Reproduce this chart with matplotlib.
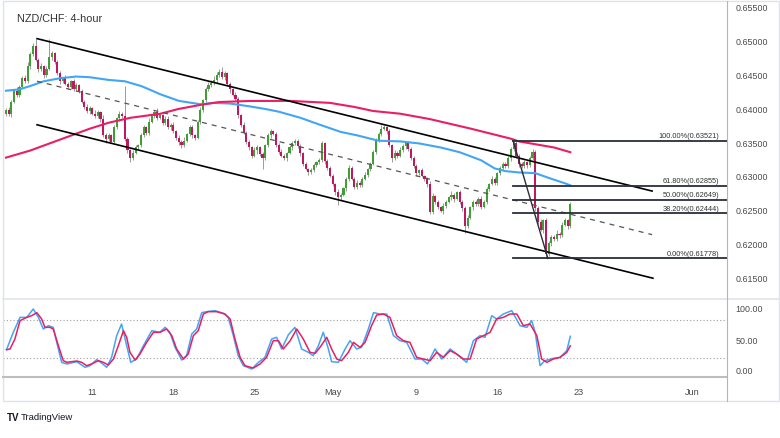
import matplotlib
matplotlib.use("Agg")
import matplotlib.pyplot as plt
from matplotlib.lines import Line2D
from matplotlib.patches import Rectangle

plt.rcParams['font.family'] = ['Liberation Sans', 'DejaVu Sans']

W, H = 780, 439

# ---------------- data ----------------
title = "NZD/CHF: 4-hour"
first_open = 0.6392
closes = [
    0.6398, 0.6392, 0.6410, 0.6426, 0.6420, 0.6432, 0.6445, 0.6440, 0.6462, 0.6480,
    0.6492, 0.6472, 0.6458, 0.6462, 0.6450, 0.6458, 0.6476, 0.6482, 0.6468, 0.6452,
    0.6440, 0.6445, 0.6436, 0.6432, 0.6440, 0.6428, 0.6434, 0.6426, 0.6410, 0.6402,
    0.6396, 0.6400, 0.6392, 0.6388, 0.6394, 0.6384, 0.6360, 0.6354, 0.6360, 0.6350,
    0.6372, 0.6385, 0.6392, 0.6388, 0.6355, 0.6338, 0.6326, 0.6334, 0.6342, 0.6345,
    0.6360, 0.6372, 0.6364, 0.6380, 0.6388, 0.6394, 0.6386, 0.6390, 0.6378, 0.6384,
    0.6372, 0.6376, 0.6366, 0.6356, 0.6350, 0.6346, 0.6352, 0.6362, 0.6372, 0.6360,
    0.6356, 0.6380, 0.6398, 0.6412, 0.6428, 0.6434, 0.6438, 0.6442, 0.6450, 0.6454,
    0.6446, 0.6452, 0.6436, 0.6428, 0.6420, 0.6414, 0.6390, 0.6376, 0.6364, 0.6350,
    0.6342, 0.6330, 0.6338, 0.6342, 0.6332, 0.6326, 0.6345, 0.6360, 0.6366, 0.6362,
    0.6346, 0.6336, 0.6330, 0.6326, 0.6334, 0.6342, 0.6348, 0.6352, 0.6344, 0.6334,
    0.6318, 0.6310, 0.6306, 0.6308, 0.6316, 0.6320, 0.6324, 0.6348, 0.6322, 0.6312,
    0.6300, 0.6288, 0.6276, 0.6268, 0.6272, 0.6282, 0.6295, 0.6312, 0.6296, 0.6284,
    0.6290, 0.6286, 0.6296, 0.6302, 0.6310, 0.6318, 0.6336, 0.6352, 0.6362, 0.6370,
    0.6372, 0.6366, 0.6345, 0.6326, 0.6334, 0.6330, 0.6338, 0.6344, 0.6348, 0.6340,
    0.6326, 0.6314, 0.6304, 0.6308, 0.6300, 0.6296, 0.6288, 0.6246, 0.6270, 0.6262,
    0.6254, 0.6248, 0.6256, 0.6262, 0.6268, 0.6272, 0.6266, 0.6276, 0.6262, 0.6252,
    0.6226, 0.6238, 0.6254, 0.6262, 0.6258, 0.6266, 0.6254, 0.6262, 0.6280, 0.6288,
    0.6296, 0.6290, 0.6304, 0.6312, 0.6318, 0.6314, 0.6326, 0.6340, 0.6348, 0.6330,
    0.6318, 0.6314, 0.6320, 0.6316, 0.6326, 0.6336, 0.6252, 0.6232, 0.6220, 0.6234,
    0.6184, 0.6200, 0.6210, 0.6206, 0.6214, 0.6212, 0.6228, 0.6234, 0.6226, 0.6258,
]
wick_up_pips = [
    3, 4, 2, 3, 5, 2, 3, 4, 6, 3,
    4, 11, 3, 5, 2, 4, 27, 3, 2, 4,
    3, 2, 5, 3, 2, 4, 3, 2, 3, 2,
    4, 3, 2, 5, 3, 2, 6, 4, 3, 2,
    3, 2, 4, 3, 45, 3, 2, 4, 3, 2,
    3, 4, 2, 5, 3, 4, 6, 3, 2, 5,
    4, 2, 3, 2, 4, 3, 5, 2, 4, 3,
    2, 3, 4, 2, 3, 5, 4, 6, 3, 4,
    7, 3, 2, 3, 2, 4, 3, 2, 3, 2,
    3, 2, 4, 3, 2, 3, 2, 4, 3, 2,
    3, 2, 4, 3, 2, 3, 4, 3, 2, 3,
    2, 3, 2, 4, 3, 2, 3, 4, 2, 3,
    2, 3, 2, 4, 3, 2, 3, 4, 3, 2,
    4, 3, 2, 3, 2, 3, 2, 4, 3, 6,
    3, 2, 3, 2, 4, 3, 5, 3, 2, 3,
    2, 3, 4, 2, 3, 2, 3, 4, 5, 2,
    3, 2, 4, 3, 2, 5, 3, 2, 3, 2,
    3, 4, 2, 3, 2, 3, 4, 2, 3, 2,
    4, 3, 2, 3, 2, 3, 4, 3, 4, 3,
    2, 3, 4, 2, 3, 4, 2, 3, 4, 2,
    3, 4, 3, 2, 6, 3, 4, 3, 2, 3,
]
wick_dn_pips = [
    4, 3, 5, 2, 3, 4, 2, 3, 2, 4,
    3, 2, 4, 3, 5, 3, 2, 4, 3, 2,
    4, 3, 2, 4, 3, 2, 3, 4, 2, 3,
    3, 4, 2, 3, 2, 4, 3, 5, 3, 2,
    2, 3, 4, 2, 3, 4, 5, 3, 2, 4,
    3, 2, 4, 3, 2, 3, 4, 2, 3, 2,
    3, 4, 2, 3, 4, 5, 3, 2, 3, 4,
    3, 2, 3, 4, 2, 3, 2, 3, 4, 3,
    2, 4, 3, 5, 2, 3, 4, 3, 2, 3,
    4, 3, 2, 5, 3, 16, 2, 3, 4, 2,
    3, 4, 2, 3, 4, 2, 3, 2, 3, 4,
    3, 2, 4, 3, 2, 3, 2, 3, 4, 3,
    2, 3, 4, 11, 3, 2, 4, 3, 2, 3,
    4, 2, 3, 2, 4, 3, 2, 3, 2, 3,
    2, 4, 3, 5, 2, 3, 2, 3, 4, 3,
    3, 2, 4, 3, 2, 3, 4, 3, 2, 4,
    3, 2, 4, 3, 2, 3, 4, 2, 3, 4,
    10, 3, 2, 4, 3, 2, 3, 2, 4, 3,
    2, 3, 4, 2, 3, 2, 3, 4, 3, 4,
    5, 3, 2, 4, 3, 2, 4, 3, 2, 4,
    6, 3, 4, 3, 2, 4, 3, 2, 4, 3,
]

# moving averages (bar index, value)
ma_blue_bars = [0, 5, 9, 14, 20, 26, 31, 38, 44, 50, 53, 57, 64, 72, 77, 83, 90, 96,
                101, 109, 116, 124, 130, 135, 138, 146, 153, 161, 168, 176, 181, 185,
                190, 196, 201, 207, 209]
ma_blue_vals = [0.6426, 0.6428, 0.6433, 0.6440, 0.64445, 0.6447, 0.6446, 0.6442, 0.6440,
                0.6433, 0.6428, 0.6421, 0.6411, 0.6406, 0.6408, 0.6407, 0.6403, 0.6399,
                0.6395, 0.6386, 0.6376, 0.6365, 0.6360, 0.6355, 0.6352, 0.6351, 0.6348,
                0.6342, 0.6335, 0.6323, 0.6311, 0.6307, 0.6305, 0.6304, 0.6297, 0.6289,
                0.6286]
ma_pink_bars = [0, 9, 16, 24, 31, 38, 46, 57, 64, 72, 79, 90, 105, 120, 129, 136, 146,
                157, 172, 187, 190, 203, 209]
ma_pink_vals = [0.6327, 0.63375, 0.63478, 0.63595, 0.63698, 0.63786, 0.63859, 0.63918,
                0.63991, 0.6405, 0.64093, 0.64108, 0.6411, 0.6408, 0.6402, 0.6396, 0.6392,
                0.6384, 0.6370, 0.6355, 0.6351, 0.6342, 0.6335]

# stochastic (bar index, value)
stoch_k_bars = [0.2, 2.7, 5.2, 7.7, 10.1, 12, 13.8, 15.7, 17.5, 18.8, 20.6, 22.5, 26.2,
                29.3, 31.1, 33.6, 35.4, 37.3, 39.1, 41, 42.8, 44.7, 46.2, 48.4, 50.9, 54,
                57, 58.9, 60.7, 62.6, 65.1, 66.9, 68.8, 70.6, 72.5, 74.3, 77.4, 80.5,
                82.3, 84.2, 86, 87.9, 91, 93.5, 95.9, 98.4, 100.2, 102.1, 104.6, 107,
                109.5, 112, 113.8, 115.7, 117.5, 119.4, 120.6, 123.1, 125.6, 127.4,
                129.9, 131.7, 134.2, 136.1, 138.5, 141, 143.5, 145.9, 148.4, 151.5, 154,
                156.1, 158.9, 161.4, 164.5, 166.9, 170.6, 173.1, 175.6, 177.4, 179.9,
                181.7, 184.2, 187.3, 190.4, 192.9, 194.7, 196, 197.8, 199.6, 202.7,
                205.2, 207.7, 209]
stoch_k_vals = [32.8, 60.8, 84.9, 84.9, 98.4, 84.9, 66.1, 71.5, 68.8, 44.6, 12.4, 9.7,
                13.4, 4.3, 7.0, 16.7, 11.3, 4.3, 20.4, 55.4, 74.2, 39.2, 12.4, 17.7, 39.2,
                63.4, 60.8, 68.8, 60.8, 36.6, 16.1, 23.1, 58.1, 66.1, 92.5, 94.1, 95.7,
                91.4, 84.9, 55.4, 23.1, 7.0, 1.6, 12.4, 20.4, 50.0, 52.7, 33.9, 57.0,
                68.8, 33.9, 28.5, 23.1, 39.2, 60.8, 33.9, 13.4, 12.4, 33.9, 47.3, 33.9,
                36.6, 66.1, 92.5, 90.3, 90.3, 55.4, 47.3, 44.6, 17.7, 17.7, 9.7, 33.9,
                17.7, 33.9, 25.8, 12.4, 47.3, 55.4, 52.7, 87.6, 82.3, 90.3, 95.7, 71.5,
                68.8, 79.6, 60.8, 7.0, 15.1, 18.8, 20.4, 31.2, 54.3]
stoch_d_bars = [0.2, 1.5, 3.3, 5.2, 7.7, 9.5, 11.4, 13.2, 14.4, 16.3, 17.5, 19.4, 21.2,
                22.5, 26.2, 28, 29.9, 31.7, 34.2, 36, 37.9, 39.8, 41.6, 43.5, 44.7, 45.9,
                47.8, 49.6, 52.1, 54.6, 57, 59.5, 61.4, 63.2, 65.7, 67.5, 69.4, 71.2,
                73.1, 74.9, 78, 81.1, 83, 84.8, 86.7, 88.5, 91.6, 94.1, 96.5, 99, 100.9,
                102.7, 105.2, 107.7, 110.1, 112.6, 114.5, 116.3, 118.8, 120.6, 122.5,
                124.3, 126.8, 128.7, 131.1, 133, 135.4, 137.3, 139.8, 142.2, 144.7,
                147.2, 149.6, 152.1, 154.6, 157.1, 159.5, 162, 164.5, 166.9, 169.4,
                171.9, 174.3, 176.8, 179.3, 181.7, 184.2, 186.7, 189.2, 191.6, 194.1,
                196.6, 198.4, 200.3, 202.7, 205.2, 207.7, 209]
stoch_d_vals = [32.8, 33.9, 50.0, 79.6, 84.9, 87.6, 92.5, 82.3, 68.8, 68.8, 66.1, 39.2,
                15.1, 12.4, 14.5, 12.4, 7.0, 9.7, 15.1, 12.4, 8.1, 17.7, 39.2, 63.4, 52.7,
                28.5, 16.1, 25.8, 44.6, 60.8, 60.8, 66.1, 55.4, 33.9, 17.7, 25.8, 55.4,
                63.4, 90.3, 94.1, 94.1, 90.3, 82.3, 50.0, 20.4, 7.0, 3.2, 9.7, 20.4, 47.3,
                47.3, 33.9, 47.0, 66.1, 50.0, 28.5, 26.9, 36.6, 52.7, 33.9, 17.7, 15.1,
                28.5, 44.6, 36.6, 44.6, 71.5, 88.7, 90.3, 84.9, 55.4, 47.3, 44.6, 20.4,
                17.7, 15.1, 28.5, 20.4, 31.2, 25.8, 17.7, 17.7, 50.0, 55.4, 60.8, 82.3,
                84.9, 90.3, 90.3, 71.5, 74.2, 55.4, 17.7, 12.4, 17.7, 20.4, 28.5, 39.0]

# drawings
channel_top = ([11.5, 239.3], [0.65031, 0.62775])
channel_mid = ([11.5, 239.3], [0.64401, 0.62130])
channel_bot = ([11.5, 239.6], [0.63756, 0.61485])
fib_start_bar = 187.8
fib_prices = [0.63521, 0.62855, 0.62649, 0.62444, 0.61778]
fib_labels = ["100.00%(0.63521)", "61.80%(0.62855)", "50.00%(0.62649)",
              "38.20%(0.62444)", "0.00%(0.61778)"]
fib_diag = ([187.8, 200.7], [0.63521, 0.61778])

date_ticks = [32, 62, 92, 121, 152, 182, 212, 254]
date_labels = ["11", "18", "25", "May", "9", "16", "23", "Jun"]
price_ticks = [0.615, 0.620, 0.625, 0.630, 0.635, 0.640, 0.645, 0.650, 0.655]
stoch_ticks = [0, 50, 100]
stoch_tick_labels = ["0.00", "50.00", "100.00"]

# ---------------- styling ----------------
GREEN = "#3f9f34"
RED = "#c2185b"
WICK = "#8c8c8c"
BLUE = "#42a5f5"
PINK = "#e91e63"
TXT = "#4a4a4a"
PX_PER_BAR = 2.7

fig = plt.figure(figsize=(W / 100, H / 100), dpi=100)
fig.patch.set_facecolor("white")


def fx(px):
    return px / W


def fy(py):
    return 1 - py / H


ax = fig.add_axes([fx(3), fy(298), fx(724), 295 / H])
ax2 = fig.add_axes([fx(3), fy(377), fx(724), 75 / H])

x_min = -(6 - 3) / PX_PER_BAR
x_max = x_min + 724 / PX_PER_BAR

n = min(len(closes), len(wick_up_pips), len(wick_dn_pips))
opens = [first_open] + closes[:n - 1]
xs = list(range(n))
for i in xs:
    o, c = opens[i], closes[i]
    hi = max(o, c) + wick_up_pips[i] / 10000.0
    lo = min(o, c) - wick_dn_pips[i] / 10000.0
    col = GREEN if c >= o else RED
    ax.vlines(i, lo, hi, color=WICK, lw=0.6, zorder=2)
    h = max(abs(c - o), 0.00005)
    ax.bar(i, h, bottom=min(o, c), width=0.8, color=col, lw=0, zorder=3)

ax.plot(ma_blue_bars, ma_blue_vals, color=BLUE, lw=1.5, zorder=4)
ax.plot(ma_pink_bars, ma_pink_vals, color=PINK, lw=1.5, zorder=4)

ax.plot(*channel_top, color="black", lw=1.2, zorder=5)
ax.plot(*channel_bot, color="black", lw=1.2, zorder=5)
ax.plot(*channel_mid, color="#555555", lw=0.9, ls=(0, (4, 4)), zorder=5)

label_x = (719 - 6) / PX_PER_BAR
for p, lab in zip(fib_prices, fib_labels):
    ax.plot([fib_start_bar, x_max], [p, p], color="#2a2e39", lw=1.3, zorder=5)
    ax.annotate(lab, (label_x, p), xytext=(0, 1.2), textcoords="offset points",
                ha="right", va="bottom", fontsize=5.3, color="#333333", zorder=6)
ax.plot(*fib_diag, color="#2a2e39", lw=1.0, zorder=5)

ax.set_xlim(x_min, x_max)
ax.set_ylim(0.655 - 293 / 6825.0, 0.655 + 5 / 6825.0)
ax.yaxis.tick_right()
ax.set_yticks(price_ticks)
ax.set_yticklabels(["%.5f" % t for t in price_ticks])
ax.tick_params(axis="y", length=0, pad=6, labelsize=6.4, labelcolor=TXT)
ax.set_xticks([])
for s in ax.spines.values():
    s.set_visible(False)

# stochastic panel
ax2.axhline(80, color="#9e9e9e", lw=0.8, ls=(0, (1, 2)), zorder=1)
ax2.axhline(20, color="#9e9e9e", lw=0.8, ls=(0, (1, 2)), zorder=1)
ax2.plot(stoch_k_bars, stoch_k_vals, color=BLUE, lw=1.1, zorder=3)
ax2.plot(stoch_d_bars, stoch_d_vals, color=PINK, lw=1.1, zorder=4)
ax2.set_xlim(x_min, x_max)
ax2.set_ylim(-6 / 0.62, 100 + 7 / 0.62)
ax2.yaxis.tick_right()
ax2.set_yticks(stoch_ticks)
ax2.set_yticklabels(stoch_tick_labels)
ax2.tick_params(axis="y", length=0, pad=6, labelsize=6.4, labelcolor=TXT)
ax2.set_xticks(date_ticks)
ax2.set_xticklabels(date_labels)
ax2.tick_params(axis="x", length=0, pad=8, labelsize=6.6, labelcolor=TXT)
for s in ax2.spines.values():
    s.set_visible(False)

# frame lines
fig.add_artist(Rectangle((fx(3), fy(402)), fx(776), 400 / H, fill=False,
                         edgecolor="#e0e3eb", lw=1.0, transform=fig.transFigure))
fig.add_artist(Line2D([fx(3), fx(779)], [fy(300), fy(300)], color="#e0e3eb", lw=1.2))
fig.add_artist(Line2D([fx(3), fx(727)], [fy(377.5), fy(377.5)], color="#bdbdbd", lw=1.5))
fig.add_artist(Line2D([fx(727), fx(727)], [fy(2), fy(402)], color="#b2b5be", lw=0.8))

fig.text(fx(17), fy(19), title, fontsize=7.8, color="#333333", va="center", ha="left")
fig.text(fx(7), fy(418), "TV", fontsize=7, fontweight="bold", color="#131722",
         va="center", ha="left")
fig.text(fx(21), fy(418), "TradingView", fontsize=6.8, color="#131722",
         va="center", ha="left")

fig.savefig("out.png", dpi=100, facecolor="white")
